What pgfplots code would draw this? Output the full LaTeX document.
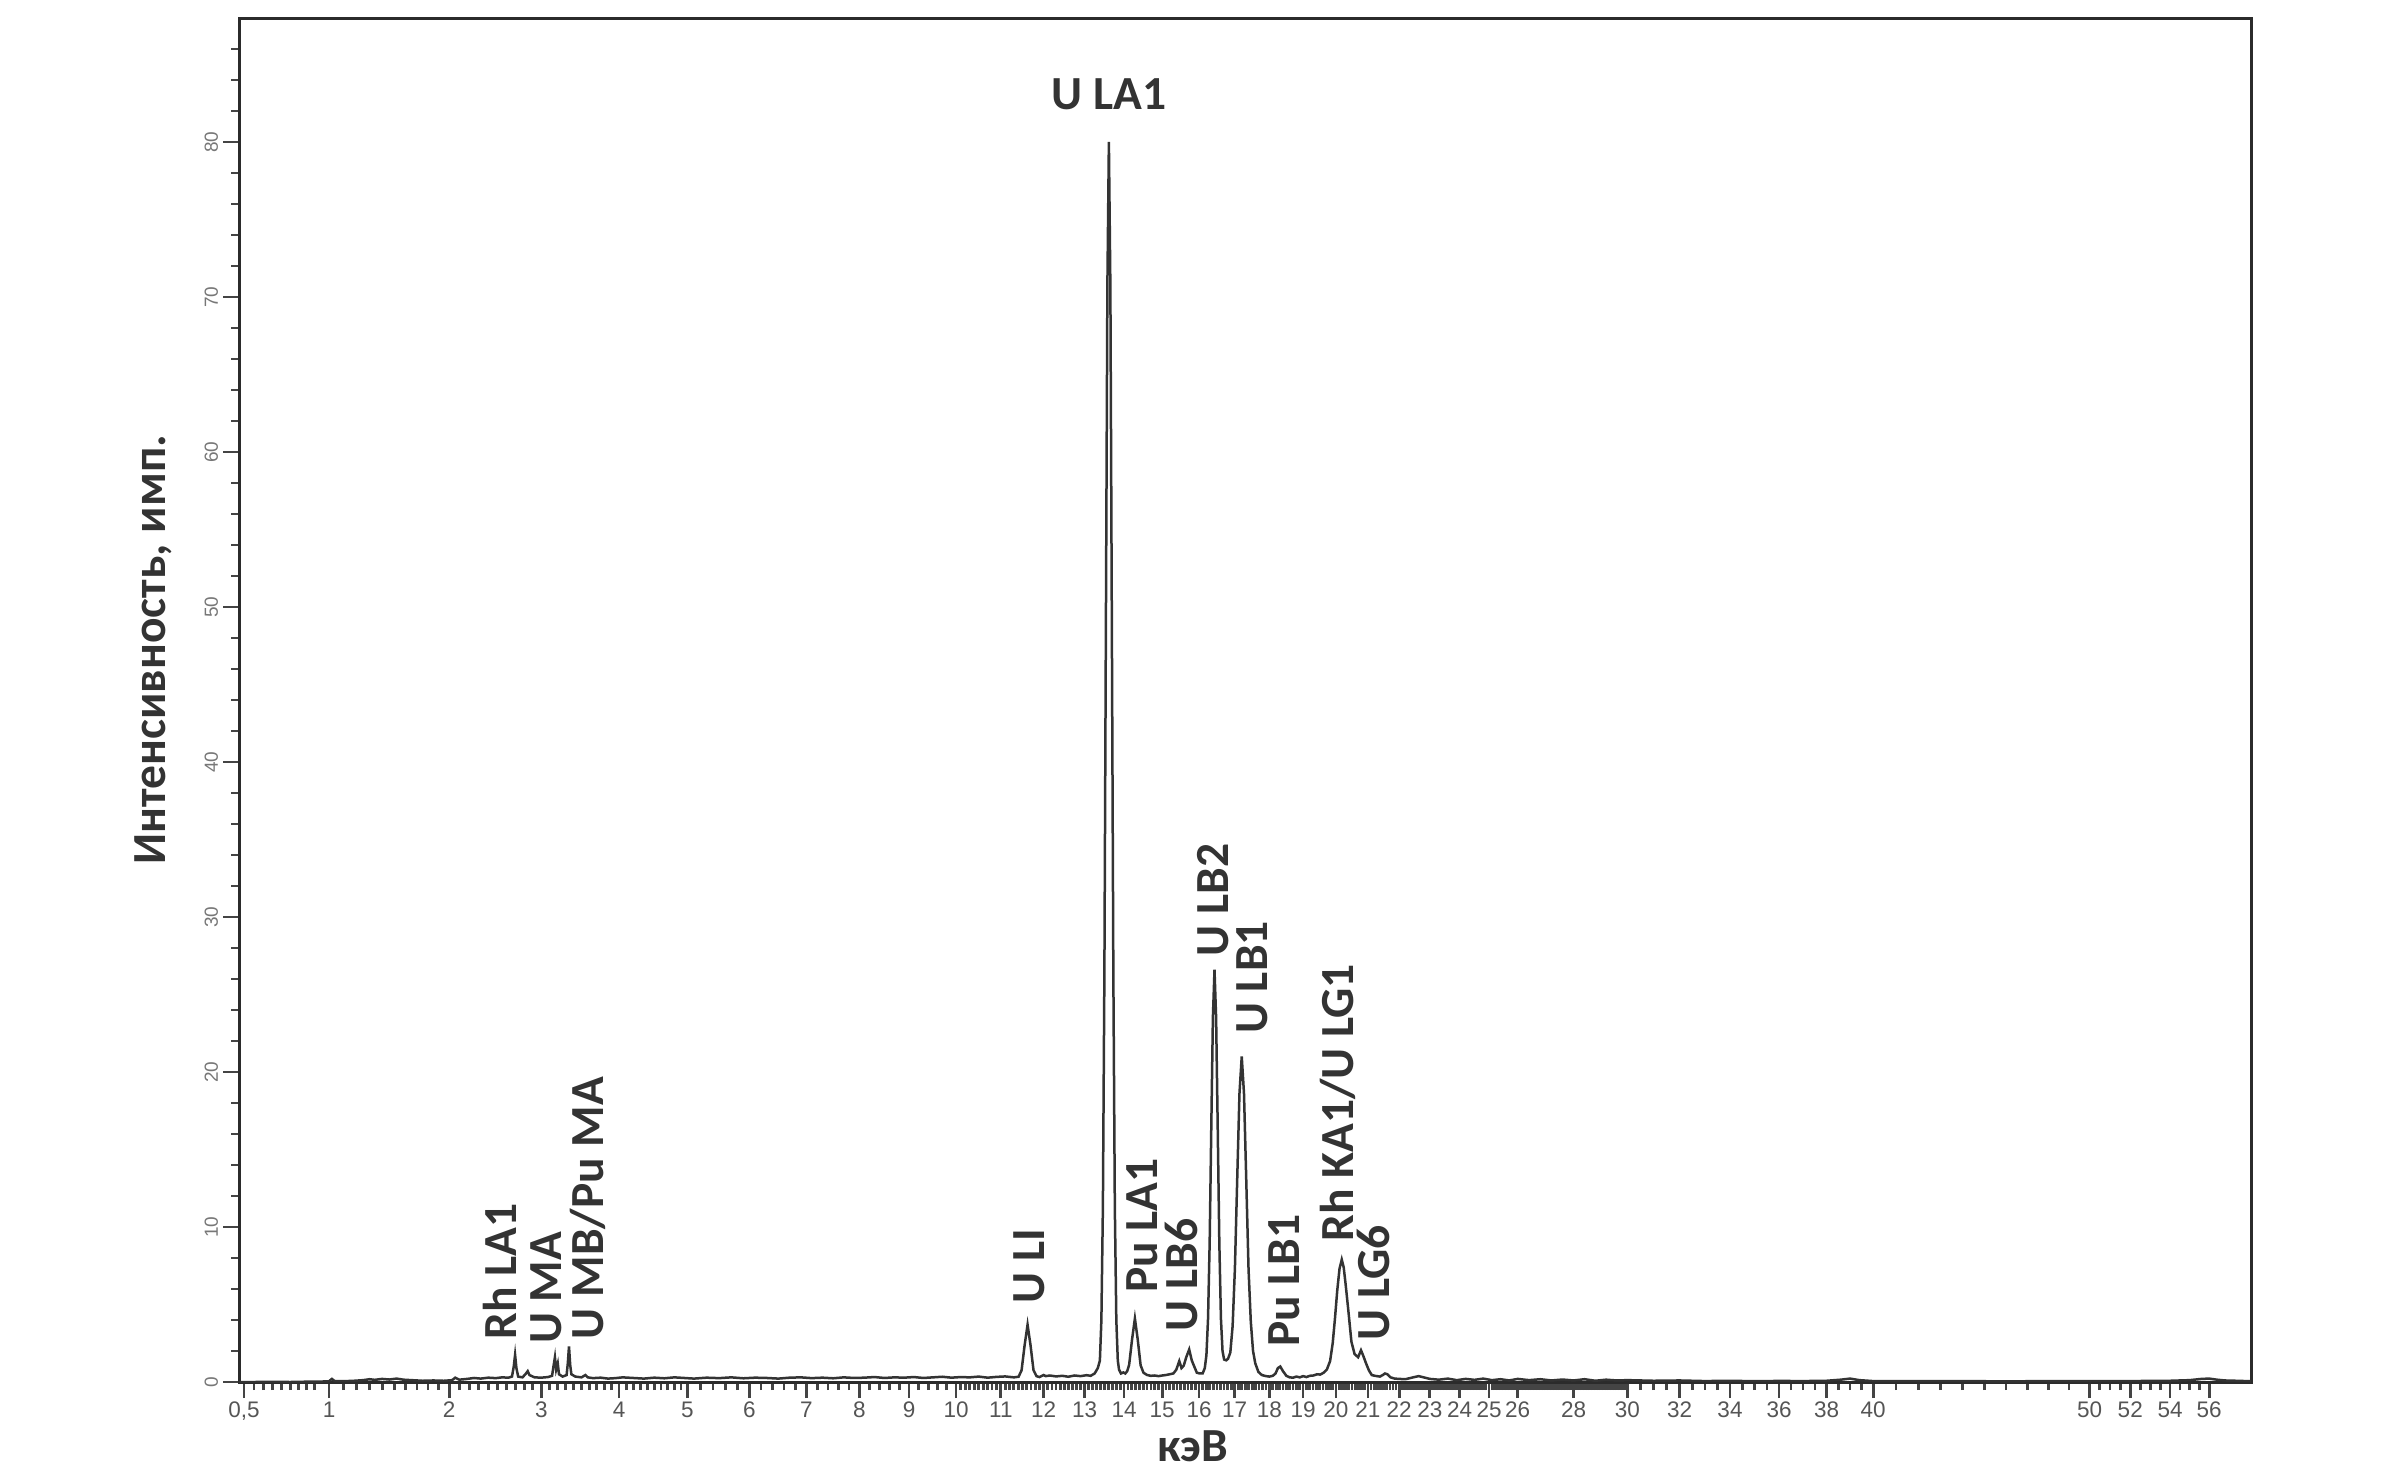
\documentclass[border=0pt]{standalone}
\usepackage{pgfplots}
\usepackage{pgfplotstable}
\pgfplotsset{compat=1.18}
\usepackage{fontspec}
\setmainfont{Carlito}
\newfontfamily\tickfont{Liberation Sans}
\definecolor{axgray}{HTML}{2B2B2B}
\definecolor{txtgray}{HTML}{333333}
\definecolor{tickgray}{HTML}{444444}
\definecolor{ticklab}{HTML}{555555}

\pgfplotstableread{
E I
0.476 0.00
0.55 0.00
0.65 0.01
0.75 0.00
0.85 0.02
0.95 0.03
1.00 0.05
1.02 0.20
1.04 0.06
1.10 0.05
1.18 0.08
1.25 0.12
1.30 0.18
1.34 0.14
1.40 0.20
1.46 0.16
1.52 0.22
1.58 0.15
1.65 0.12
1.75 0.08
1.85 0.10
1.95 0.08
2.03 0.12
2.06 0.28
2.10 0.15
2.18 0.20
2.25 0.26
2.32 0.22
2.40 0.28
2.48 0.25
2.55 0.30
2.62 0.28
2.66 0.35
2.68 1.00
2.695 1.75
2.71 0.90
2.73 0.35
2.78 0.30
2.82 0.55
2.84 0.70
2.86 0.45
2.92 0.30
3.00 0.28
3.08 0.32
3.13 0.40
3.15 1.10
3.165 1.60
3.18 0.80
3.20 1.20
3.215 0.50
3.26 0.35
3.31 0.45
3.325 1.20
3.34 2.30
3.355 1.10
3.37 0.50
3.42 0.35
3.50 0.30
3.55 0.45
3.58 0.30
3.65 0.25
3.75 0.28
3.85 0.22
3.95 0.25
4.05 0.30
4.20 0.26
4.35 0.22
4.50 0.28
4.65 0.24
4.80 0.30
4.95 0.26
5.10 0.22
5.30 0.28
5.50 0.25
5.70 0.30
5.90 0.24
6.10 0.28
6.30 0.26
6.50 0.22
6.70 0.28
6.90 0.30
7.10 0.25
7.30 0.28
7.50 0.24
7.70 0.30
7.90 0.26
8.10 0.28
8.30 0.32
8.50 0.26
8.70 0.30
8.90 0.28
9.10 0.32
9.30 0.26
9.50 0.30
9.70 0.34
9.90 0.28
10.10 0.32
10.30 0.30
10.50 0.35
10.70 0.28
10.90 0.33
11.10 0.36
11.30 0.30
11.41 0.34
11.48 0.76
11.55 2.36
11.62 3.70
11.69 2.36
11.76 0.76
11.83 0.38
11.90 0.32
12.00 0.45
12.05 0.38
12.15 0.42
12.30 0.36
12.45 0.40
12.60 0.34
12.75 0.42
12.90 0.38
13.05 0.44
13.15 0.40
13.25 0.55
13.33 0.90
13.382 1.38
13.42 3.99
13.458 11.26
13.496 26.3
13.534 48.7
13.572 70.7
13.61 80.0
13.648 70.7
13.686 48.7
13.724 26.3
13.762 11.26
13.80 3.99
13.838 1.38
13.87 0.80
13.92 0.55
13.98 0.62
14.03 0.55
14.08 0.70
14.13 1.10
14.205 2.72
14.28 4.10
14.355 2.72
14.43 1.07
14.505 0.60
14.60 0.45
14.70 0.40
14.80 0.42
14.90 0.38
15.00 0.42
15.10 0.45
15.20 0.50
15.30 0.55
15.38 0.80
15.46 1.35
15.52 0.90
15.58 1.05
15.65 1.60
15.73 2.10
15.80 1.40
15.86 1.05
15.94 0.60
16.02 0.55
16.10 0.55
16.16 0.90
16.205 1.74
16.25 4.10
16.295 9.0
16.34 16.4
16.385 23.5
16.43 26.6
16.475 23.5
16.52 16.4
16.565 9.0
16.61 4.1
16.655 2.0
16.70 1.45
16.76 1.40
16.81 1.50
16.875 1.90
16.94 3.60
17.005 7.3
17.07 13.0
17.135 18.6
17.20 21.0
17.265 18.6
17.33 13.0
17.395 7.3
17.46 3.9
17.525 2.0
17.59 1.2
17.68 0.65
17.78 0.45
17.90 0.38
18.00 0.35
18.10 0.40
18.18 0.55
18.25 0.90
18.32 1.00
18.40 0.70
18.50 0.40
18.60 0.30
18.70 0.28
18.80 0.35
18.90 0.30
19.00 0.38
19.10 0.32
19.20 0.40
19.31 0.42
19.42 0.50
19.52 0.48
19.62 0.60
19.72 0.80
19.82 1.35
19.90 2.50
19.97 4.10
20.04 5.90
20.11 7.30
20.18 7.90
20.24 7.40
20.30 6.30
20.38 4.70
20.48 2.60
20.58 1.80
20.69 1.60
20.78 2.05
20.85 1.70
20.94 1.20
21.03 0.75
21.12 0.45
21.22 0.40
21.38 0.35
21.47 0.45
21.54 0.55
21.62 0.50
21.72 0.30
21.85 0.22
22.00 0.20
22.20 0.18
22.45 0.30
22.63 0.38
22.80 0.30
23.00 0.20
23.30 0.15
23.60 0.22
23.90 0.12
24.20 0.20
24.50 0.14
24.80 0.22
25.10 0.12
25.40 0.18
25.70 0.10
26.00 0.20
26.40 0.12
26.80 0.18
27.20 0.10
27.60 0.16
28.00 0.10
28.40 0.18
28.80 0.08
29.20 0.15
29.60 0.10
30.00 0.12
31.00 0.08
32.00 0.10
33.00 0.06
34.00 0.08
35.00 0.05
36.00 0.07
37.00 0.06
38.00 0.08
38.60 0.15
39.00 0.22
39.40 0.12
40.00 0.06
42.00 0.05
44.00 0.06
46.00 0.04
48.00 0.06
50.00 0.05
52.00 0.06
54.00 0.08
55.00 0.12
55.60 0.20
56.00 0.22
56.40 0.15
56.80 0.10
57.40 0.08
58.18 0.05
}\spec

\begin{document}
\begin{tikzpicture}
\begin{axis}[
  name=ax,
  scale only axis,
  width=402.4pt, height=272.8pt,
  x coord trafo/.code={\pgfmathparse{sqrt(#1)}},
  x coord inv trafo/.code={\pgfmathparse{(#1)^2}},
  xmin=0.4756, xmax=58.18,
  ymin=0, ymax=88,
  axis line style={axgray, line width=0.6pt},
  tick align=outside,
  xtick pos=lower, ytick pos=left,
  major tick length=3.2pt, minor tick length=1.6pt,
  tick style={tickgray, line width=0.55pt},
  xtick={0.5,1,2,3,4,5,6,7,8,9,10,11,12,13,14,15,16,17,18,19,20,21,22,23,24,25,26,28,30,32,34,36,38,40,50,52,54,56},
  xticklabels={{0{,}5},1,2,3,4,5,6,7,8,9,10,11,12,13,14,15,16,17,18,19,20,21,22,23,24,25,26,28,30,32,34,36,38,40,50,52,54,56},
  minor xtick={0.55,0.6,...,0.95,1.1,1.2,...,4.9,5.2,5.4,...,9.8,10.1,10.2,...,29.9,30.5,31,...,39.5,41,42,...,49,50.5,51,...,55.5},
  ytick={0,10,...,80},
  yticklabels={0,10,20,30,40,50,60,70,80},
  minor ytick={2,4,...,86},
  xticklabel style={font=\tickfont\fontsize{4.5}{5}\selectfont, text=ticklab, anchor=north, inner sep=0.6pt},
  yticklabel style={font=\tickfont\fontsize{3.8}{4.5}\selectfont, text=ticklab!80, rotate=90, anchor=south, inner sep=0.8pt},
  xlabel={кэВ},
  ylabel={Интенсивность, имп.},
  xlabel style={font=\bfseries\fontsize{9.5}{11}\selectfont, text=txtgray, at={(axis description cs:0.474,-0.047)}, anchor=center},
  ylabel style={font=\bfseries\fontsize{9.5}{11}\selectfont, text=txtgray, at={(axis description cs:-0.0427,0.537)}, anchor=center},
]
\addplot[black!80, line width=0.5pt] table[x=E, y=I] {\spec};

\begin{scope}[every node/.style={font=\bfseries\fontsize{9.5}{11}\selectfont, text=txtgray, inner sep=0pt}]
\node[anchor=base] at (axis cs:13.61,82.1) {U LA1};
\node[rotate=90, anchor=west] at (axis cs:2.527,2.7) {Rh LA1};
\node[rotate=90, anchor=west] at (axis cs:3.056,2.4) {U MA};
\node[rotate=90, anchor=west] at (axis cs:3.584,2.7) {U MB/Pu MA};
\node[rotate=90, anchor=west] at (axis cs:11.65,5.0) {U LI};
\node[rotate=90, anchor=west] at (axis cs:14.47,5.7) {Pu LA1};
\node[rotate=90, anchor=west] at (axis cs:15.53,3.2) {U LB6};
\node[rotate=90, anchor=west] at (axis cs:16.40,27.4) {U LB2};
\node[rotate=90, anchor=west] at (axis cs:17.50,22.4) {U LB1};
\node[rotate=90, anchor=west] at (axis cs:18.43,2.2) {Pu LB1};
\node[rotate=90, anchor=west] at (axis cs:20.06,9.0) {Rh KA1/U LG1};
\node[rotate=90, anchor=west] at (axis cs:21.16,2.6) {U LG6};
\end{scope}
\end{axis}
\pgfresetboundingbox
\path[use as bounding box] ([shift={(-47.8pt,-18.4pt)}]ax.south west) rectangle ([shift={(29pt,3.6pt)}]ax.north east);
\end{tikzpicture}
\end{document}
